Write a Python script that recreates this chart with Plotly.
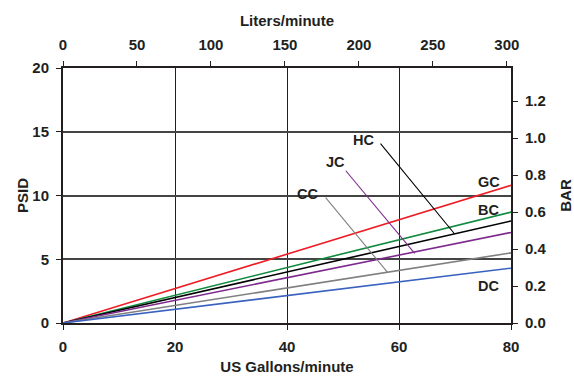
import plotly.graph_objects as go

# Data (PSID at 80 US gpm; lines are linear from origin)
series_names = ["GC", "BC", "HC", "JC", "CC", "DC"]
series_colors = ["#ee1c25", "#108a3e", "#000000", "#7d2a8c", "#808080", "#3a62c0"]
gpm_x = [0, 80]
psid_at_80 = [10.8, 8.7, 8.0, 7.1, 5.5, 4.3]

# Labels (gpm, psid) and leader lines
label_names = ["GC", "BC", "DC", "HC", "JC", "CC"]
label_x = [76.0, 76.0, 76.0, 53.7, 48.7, 43.7]
label_y = [11.07, 8.85, 2.89, 14.33, 12.61, 10.1]
leader_names = ["HC", "JC", "CC"]
leader_colors = ["#000000", "#7d2a8c", "#808080"]
leader_x = [[56.7, 69.9], [50.5, 62.8], [46.9, 58.0]]
leader_y = [[14.07, 7.0], [11.94, 5.46], [9.83, 3.95]]

x_ticks = [0, 20, 40, 60, 80]
y_ticks = [0, 5, 10, 15, 20]
lpm_ticks = [0, 50, 100, 150, 200, 250, 300]
bar_ticks = [0.0, 0.2, 0.4, 0.6, 0.8, 1.0, 1.2]

GAL_TO_L = 3.785
PSI_PER_BAR = 14.5038

FONT = dict(family="Liberation Sans, Arial, sans-serif", size=15, color="#231f20", weight="bold")
LFONT = dict(family="Liberation Sans, Arial, sans-serif", size=14.5, color="#231f20", weight="bold")

fig = go.Figure()
for name, col, v in zip(series_names, series_colors, psid_at_80):
    fig.add_trace(go.Scatter(x=gpm_x, y=[0, v], mode="lines", name=name,
                             line=dict(color=col, width=1.6), showlegend=False))
for name, col, lx, ly in zip(leader_names, leader_colors, leader_x, leader_y):
    fig.add_trace(go.Scatter(x=lx, y=ly, mode="lines", line=dict(color=col, width=1.1),
                             showlegend=False, hoverinfo="skip"))
# invisible traces to activate secondary axes
fig.add_trace(go.Scatter(x=[0, 80 * GAL_TO_L], y=[0, 0], xaxis="x2", yaxis="y",
                         mode="lines", line=dict(width=0), showlegend=False, hoverinfo="skip"))
fig.add_trace(go.Scatter(x=[0, 80], y=[0, 20 / PSI_PER_BAR], xaxis="x", yaxis="y2",
                         mode="lines", line=dict(width=0), showlegend=False, hoverinfo="skip"))

for t, lx, ly in zip(label_names, label_x, label_y):
    fig.add_annotation(x=lx, y=ly, text=t, showarrow=False, font=LFONT, xanchor="center", yanchor="middle")

axis_common = dict(showline=True, linecolor="#231f20", linewidth=2, ticks="outside",
                   ticklen=5, tickwidth=1.2, tickcolor="#231f20", tickfont=FONT, zeroline=False,
                   automargin=False)

fig.update_layout(
    width=574, height=377,
    margin=dict(l=63, r=63, t=68, b=54),
    paper_bgcolor="white", plot_bgcolor="white",
    xaxis=dict(range=[0, 80], tickvals=x_ticks, showgrid=True, gridcolor="#231f20", gridwidth=1.3,
               ticklabelstandoff=4,
               title=dict(text="US Gallons/minute", font=FONT, standoff=7), **axis_common),
    xaxis2=dict(range=[0, 80 * GAL_TO_L], tickvals=lpm_ticks, overlaying="x", side="top",
                showgrid=False, ticklabelstandoff=5,
                title=dict(text="Liters/minute", font=FONT, standoff=6), **axis_common),
    yaxis=dict(range=[0, 20], tickvals=y_ticks, showgrid=True, gridcolor="#444444", gridwidth=1.5,
               ticklabelstandoff=4,
               title=dict(text="PSID", font=FONT, standoff=0), **axis_common),
    yaxis2=dict(range=[0, 20 / PSI_PER_BAR], tickvals=bar_ticks, tickformat=".1f", overlaying="y",
                side="right", showgrid=False, ticklabelstandoff=4,
                title=dict(text="BAR", font=FONT, standoff=17), **axis_common),
)

fig.write_html("out.html", config={"displayModeBar": False},
               post_script="document.body.style.margin='0';document.body.style.overflow='hidden';")
